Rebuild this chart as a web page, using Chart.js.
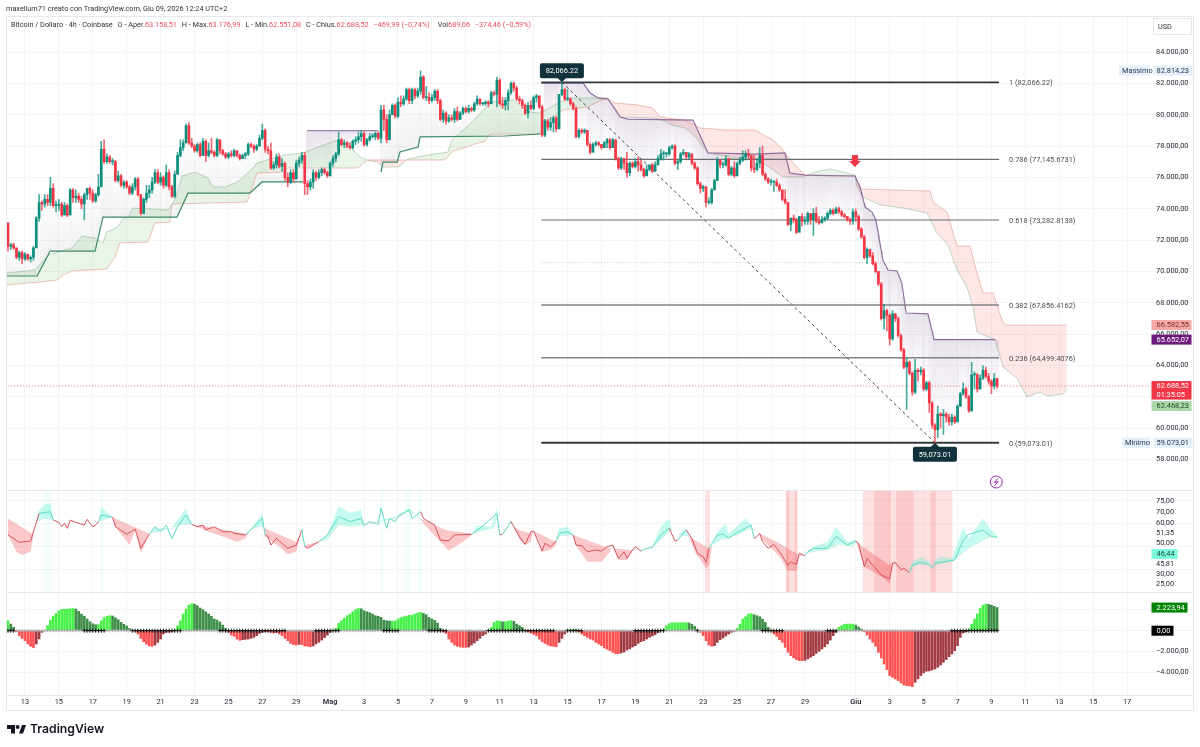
<!DOCTYPE html>
<html lang="it">
<head>
<meta charset="utf-8">
<title>Bitcoin / Dollaro 4h</title>
<script src="https://cdn.jsdelivr.net/npm/chart.js@4"></script>
<style>
  html, body { margin: 0; padding: 0; background: #fff; }
  #wrap { position: relative; width: 1200px; height: 747px; overflow: hidden; font-family: Roboto, sans-serif; color: #333; }
  #priceChart { position: absolute; left: 0; top: 0; }
  .txt { position: absolute; white-space: pre; font-size: 7.3px; line-height: 10px; }
  .txt b { font-weight: 400; color: #e8505f; }
  .txt i { font-style: normal; margin-left: 4.8px; }
  #logoText { left: 30px; top: 720px; font: 600 12.2px/18px Inter, sans-serif; color: #131722; }
</style>
</head>
<body>
<div id="wrap">
  <canvas id="priceChart" width="1200" height="747"></canvas>
  <div class="txt" style="left:6px;top:4px">maxellum71 creato con TradingView.com, Giu 09, 2026 12:24 UTC+2</div>
  <div class="txt" style="left:11px;top:20px">Bitcoin / Dollaro · 4h · Coinbase<i>O - Aper.</i><b>63.158,51</b><i>H - Max.</i><b>63.176,99</b><i>L - Min.</i><b>62.551,08</b><i>C - Chius.</i><b>62.688,52</b><i></i><b>−469,99 (−0,74%)</b><i style="margin-left:8px">Vol</i><b>689,06</b><i></i><b>−374,46 (−0,59%)</b></div>
  <div class="txt" style="left:1158px;top:22px">USD</div>
  <svg style="position:absolute;left:7px;top:725px" width="19" height="9" viewBox="0 0 19 9">
    <path d="M0 0H8V8.5H4V4H0Z M12 8.5L15 0H19L16 8.5Z" fill="#131722"/>
    <circle cx="10.6" cy="2" r="2" fill="#131722"/>
  </svg>
  <div class="txt" id="logoText">TradingView</div>
</div>
<script>
// candles, one per 4h bar, thousands of USD (10 per row)
const closes = [
  71.6,71.7,71.5,70.9,71.2,70.8,71.1,70.8,70.9,71.5,
  73.4,74.4,74.3,74.6,74.4,75.3,74.2,74.2,74.3,73.6,
  74.2,73.6,75.2,74.7,74.8,74.6,74.3,74.9,75.3,75.0,
  74.5,74.9,75.4,77.8,77.0,77.3,77.0,77.0,75.8,76.1,
  75.5,75.7,75.4,75.0,75.4,75.9,74.9,73.7,74.6,75.0,
  75.2,75.7,76.3,75.7,76.0,75.5,76.3,75.4,74.8,76.2,
  77.4,77.9,78.2,79.3,78.2,78.0,77.7,78.1,77.4,78.3,
  77.4,77.7,77.6,77.4,78.4,77.7,77.5,77.3,77.5,77.4,
  77.7,77.4,77.2,77.4,77.5,78.1,78.0,77.8,78.0,78.5,
  79.0,77.8,77.7,76.6,76.8,77.3,76.7,76.9,76.0,75.7,
  76.3,75.9,76.9,77.1,77.4,75.6,75.4,75.7,76.3,76.0,
  76.3,76.5,76.3,76.1,76.9,77.2,77.5,78.4,78.1,78.2,
  78.0,77.9,78.3,78.4,78.6,78.8,78.1,78.4,78.6,78.6,
  78.8,78.5,80.3,79.7,78.4,80.0,80.6,79.9,80.8,80.7,
  81.0,81.6,80.9,81.6,81.2,81.5,82.4,81.1,81.1,80.9,
  81.1,81.5,80.9,79.7,80.1,79.6,79.8,79.7,80.2,79.7,
  80.1,80.4,80.2,80.4,80.3,80.7,81.0,80.7,80.7,80.8,
  80.7,81.4,81.3,82.2,80.7,80.6,80.9,81.4,82.0,81.7,
  81.0,80.9,80.6,80.1,80.6,80.4,81.1,81.2,80.5,78.7,
  79.6,79.2,79.5,79.8,79.1,81.3,81.6,81.0,81.0,80.7,
  80.4,78.6,79.0,78.9,79.0,78.1,77.6,78.1,78.2,78.1,
  77.9,78.2,78.4,77.9,78.4,77.2,76.6,77.2,76.9,76.3,
  76.9,76.7,77.0,76.8,76.5,76.1,76.5,76.8,76.4,76.8,
  77.2,77.5,77.5,77.5,77.9,78.0,76.9,77.0,77.5,77.6,
  77.3,77.5,76.9,76.6,75.6,75.3,75.4,74.4,74.4,75.2,
  75.8,77.1,76.8,76.8,77.2,76.2,76.6,76.1,76.9,77.1,
  77.3,77.5,77.4,76.6,76.5,76.9,77.4,76.2,75.9,75.7,
  75.7,75.7,75.5,75.2,74.6,74.4,73.0,73.4,73.3,72.5,
  73.5,73.2,73.2,73.7,73.3,73.7,73.2,73.1,73.3,73.4,
  73.7,73.9,73.7,74.0,73.8,73.6,73.5,73.3,73.2,73.8,
  73.5,72.7,72.2,70.9,71.4,71.0,70.5,70.0,69.2,67.0,
  67.5,67.2,65.7,67.3,67.0,65.9,65.0,63.9,64.2,63.5,
  62.3,63.7,63.6,63.7,62.5,62.9,61.6,60.2,59.9,60.9,
  60.8,60.9,60.7,60.4,60.7,60.4,61.4,62.2,62.5,62.0,
  61.1,63.4,63.4,62.5,63.2,63.7,63.3,63.0,62.7,63.16,62.69,
];
const highs = [
  73.1,71.8,71.8,71.5,71.3,71.3,71.2,71.1,71.0,71.6,
  73.5,74.9,74.5,74.9,74.9,76.0,75.6,74.5,74.6,74.4,
  74.4,74.3,75.3,75.3,75.2,75.0,74.8,75.0,75.3,75.4,
  75.2,75.0,76.2,78.3,78.4,77.5,77.4,77.2,77.1,76.4,
  76.2,75.8,75.8,75.5,75.6,76.0,76.0,74.9,74.7,75.5,
  75.5,76.0,76.5,76.5,76.3,76.1,76.8,76.5,75.5,76.4,
  77.6,78.4,78.4,79.4,79.5,78.5,78.1,78.2,78.2,78.5,
  78.4,78.2,78.5,77.7,78.5,78.4,77.8,77.6,77.6,77.7,
  77.8,77.7,77.5,77.5,77.6,78.2,78.2,78.1,78.1,78.7,
  79.4,79.1,78.0,78.2,77.0,77.5,77.5,77.2,77.0,76.3,
  76.5,76.5,77.1,77.3,77.6,77.6,75.8,75.9,76.5,76.4,
  76.5,76.6,76.6,76.4,77.0,77.4,77.6,78.9,78.5,78.4,
  78.3,78.2,78.4,78.6,78.9,79.0,78.9,78.5,78.8,78.8,
  78.9,78.9,80.6,80.6,80.0,80.3,80.7,80.7,81.1,81.2,
  81.2,81.7,81.7,81.7,81.7,81.7,82.8,82.5,81.8,81.4,
  81.3,81.6,81.6,81.0,80.3,80.2,80.0,80.0,80.4,80.5,
  80.2,80.5,80.5,80.6,80.5,80.8,81.2,81.0,80.8,80.9,
  80.9,81.5,81.5,82.4,82.3,81.1,81.1,81.6,82.1,82.1,
  81.8,81.2,81.0,80.7,80.8,80.9,81.2,81.3,81.2,80.6,
  79.7,79.7,79.8,79.9,79.9,81.3,82.07,81.7,81.6,81.1,
  80.8,80.5,79.1,79.1,79.1,79.0,78.2,78.2,78.3,78.3,
  78.1,78.3,78.5,78.5,78.5,78.4,77.3,77.3,77.2,77.6,
  77.0,77.0,77.2,77.3,77.1,76.6,76.8,76.8,76.9,77.0,
  77.4,77.8,77.7,77.6,78.0,78.1,78.1,77.1,77.6,77.8,
  77.6,77.6,77.5,77.0,76.7,75.7,75.5,75.4,74.7,75.3,
  75.9,77.3,77.1,77.0,77.4,77.2,76.7,77.0,77.0,77.3,
  77.7,77.7,77.8,77.4,77.4,77.2,77.9,78.0,76.3,76.0,
  75.9,75.8,75.9,75.6,75.2,75.2,74.4,73.4,73.6,73.4,
  73.5,73.7,73.5,73.8,73.6,74.0,74.1,73.5,73.5,73.5,
  73.8,74.0,74.0,74.1,74.1,73.9,73.7,73.5,73.4,74.0,
  74.0,73.6,72.8,72.3,71.5,71.4,71.2,70.6,70.0,69.3,
  67.9,67.6,67.3,67.5,67.3,67.1,66.0,65.1,64.5,64.3,
  63.6,64.4,63.8,63.9,63.8,63.0,63.0,61.7,60.3,61.4,
  61.0,61.2,61.0,60.9,60.9,60.8,61.5,62.3,62.9,62.6,
  62.1,64.2,63.6,63.5,63.4,64.0,63.9,63.5,63.1,63.5,63.18,
];
const lows = [
  71.3,71.4,71.4,70.8,70.7,70.5,70.7,70.7,70.6,70.7,
  71.6,73.2,73.9,74.1,74.2,74.2,74.1,73.8,73.9,73.5,
  73.6,73.5,73.7,74.4,74.4,74.4,74.0,73.3,74.6,74.6,
  74.4,74.4,74.8,75.4,76.9,76.9,76.9,76.8,75.7,75.7,
  75.4,75.3,75.3,74.9,74.9,75.2,74.8,73.6,73.7,74.4,
  74.7,75.0,75.6,75.6,75.5,75.3,75.4,75.2,74.7,74.7,
  76.2,77.3,77.7,78.2,78.1,77.9,77.6,77.6,77.3,77.4,
  77.0,77.3,77.5,77.3,77.3,77.5,77.4,77.2,77.2,77.3,
  77.3,77.3,77.1,77.2,77.2,77.4,77.9,77.6,77.7,78.0,
  78.4,77.6,77.5,76.5,76.5,76.6,76.6,76.4,75.8,75.4,
  75.6,75.7,76.1,76.7,76.9,74.9,74.9,75.2,75.3,75.8,
  75.9,76.1,76.2,76.0,76.1,76.7,77.0,77.4,78.0,77.9,
  77.9,77.8,77.8,78.1,78.2,78.3,78.0,78.0,78.3,78.5,
  78.4,78.4,78.2,79.0,78.2,78.5,80.0,79.8,79.8,80.5,
  80.6,80.9,80.7,80.7,81.0,81.1,81.3,81.0,80.9,80.7,
  80.8,80.9,80.7,79.6,79.5,79.4,79.5,79.6,79.5,79.6,
  79.7,80.0,80.1,80.1,80.2,80.2,80.6,80.6,80.6,80.6,
  80.5,80.7,81.2,80.5,80.6,80.4,80.3,80.3,81.3,81.5,
  80.9,80.7,80.4,80.0,79.8,80.3,80.3,80.8,80.4,78.6,
  78.6,79.0,79.0,78.9,78.9,79.1,81.2,80.9,80.9,80.6,
  80.3,78.5,78.5,78.8,78.8,78.0,77.5,77.9,78.0,78.0,
  77.8,77.9,77.9,77.8,77.9,77.1,76.5,76.5,76.5,76.0,
  76.1,76.6,76.6,76.4,76.4,76.0,76.1,76.4,76.3,76.4,
  76.8,77.1,77.1,77.3,77.4,77.8,76.8,76.5,76.9,77.4,
  77.2,77.2,76.8,76.5,75.5,75.0,75.1,74.1,74.3,74.3,
  75.2,75.8,76.6,76.6,76.7,76.1,76.1,76.0,76.1,76.8,
  77.0,77.1,77.2,76.4,76.3,76.4,76.6,76.1,75.8,75.6,
  75.5,75.1,75.4,75.1,74.5,74.3,72.9,72.6,73.1,72.4,
  72.7,72.9,73.0,73.0,73.0,72.3,73.1,73.0,73.1,73.2,
  73.3,73.6,73.6,73.7,73.7,73.5,73.4,73.2,73.0,73.0,
  73.2,72.6,72.1,70.8,70.5,70.9,70.4,69.9,69.1,66.9,
  66.3,66.2,65.3,65.6,66.8,65.8,64.9,63.8,61.2,63.4,
  62.1,62.2,63.0,63.4,62.4,62.4,61.0,60.0,59.07,59.4,
  60.0,59.6,60.4,60.2,60.2,60.3,60.4,61.4,62.1,61.9,
  61.0,61.1,62.5,62.3,62.5,63.1,63.2,62.8,62.2,62.5,62.55,
];
const firstOpen = 73.1;

// cloud edges, bar index and thousands of USD
const spanABars = [-0.4,9.6,14.2,22.6,26.2,30.8,33.6,35,38.9,40.3,42.5,44.2,56.6,59.1,61.6,66.2,70.8,72.5,76.8,81.4,86.7,88.1,97.9,104.4,109.7,116.8,121,124.6,127,130.6,132.7,138,141.5,148.6,155.7,157.1,164.2,168.8,171.3,178.7,184.7,188.3,195.3,199.9,212,214.8,216.6,228.9,231.4,235,239.6,243.8,247.7,251.2,257.3,264.3,267.2,274.2,281.3,285.6,290.9,299.7,300.4,302.5,308.6,316.7,325.2,328.7,332.6,335.8,339.3,341.5,342.9,349.3,352.1,357,360.6,365.2,367.7,373.3,374.7];
const spanAVals = [69.9,70.09,71.05,71.5,72.26,72.13,71.82,72.52,72.84,73.28,73.47,74.05,73.92,74.56,76.09,76.34,75.96,75.39,75.39,75.71,76.6,76.92,77.43,77.56,77.94,78.39,77.94,77.3,77.11,76.98,76.66,76.66,77.17,77.43,77.62,78.39,79.53,80.43,80.81,80.94,80.17,80.11,80.81,81.07,81.07,80.43,79.85,79.79,79.66,79.34,79.15,78.51,77.56,77.43,77.24,77.17,76.92,76.03,76.03,76.34,76.54,76.15,75.39,74.75,74.24,74.05,73.73,72.45,71.69,70.09,69.01,67.73,66.14,65.63,63.9,63.2,61.99,62.31,62.05,62.18,62.47];
const spanBBars = [-0.7,11.3,17.3,19.5,22.6,35,37.9,39.6,49.5,52,57.3,58,84.6,86.3,88.1,97.3,99.1,123.8,127,154.6,157.5,168.8,170.6,188.3,191.1,196.4,204.9,210.2,212,214.8,222.9,228.2,230.7,239.6,243.1,244.9,254.8,264.3,270.7,274.2,277.8,282,290.9,299.7,301.5,326.3,327.3,332.3,335.8,340.4,342.9,345,348.6,351.7,352.8,374.7];
const spanBVals = [69.14,69.33,69.45,69.77,70.03,70.16,70.92,71.82,71.88,73.09,73.15,74.3,74.43,75.32,76.28,76.34,76.6,76.6,77.11,77.11,77.68,78.32,78.77,78.77,79.66,80.3,80.49,80.94,81.07,80.75,80.62,80.43,79.85,79.66,79.34,79.15,79.02,79.02,78.39,77.75,76.92,76.15,76.09,76.09,75.26,75.13,74.43,73.79,71.62,71.62,69.9,68.63,68.63,66.9,66.58,66.58];

// trend stop lines, green below price and purple above it
const trendUpOneBars = [-0.7,10.3,14.2,14.9,30.8,33.6,59.8,63.7,85.6,89.9,104.4];
const trendUpOneVals = [69.71,69.71,71.05,71.3,71.3,73.47,73.47,75,75,75.71,75.71];
const trendDownOneBars = [105.8,130.9];
const trendDownOneVals = [78.99,78.99];
const trendUpTwoBars = [132,132.7,137.7,138.7,145.1,145.8,175.9,188.3];
const trendUpTwoVals = [76.34,76.98,76.98,77.62,77.94,78.58,78.64,78.77];
const trendDownTwoBars = [188.6,203.5,206,208.8,212.3,216.6,219.4,242.4,247.7,264.3,274.9,276.7,282,299.7,301.5,303.3,305.7,307.1,309.6,311.4,314.6,316.3,317.8,325.5,327.7,349.3];
const trendDownTwoVals = [82.02,82.02,81.38,81.07,81,79.85,79.72,79.66,77.56,77.49,77.56,76.28,76.15,76.09,75.39,74.11,73.79,73.28,70.73,70.09,70.03,69.26,67.35,67.29,65.65,65.65];

// fibonacci retracement
const fibValues = [82066.22,77145.6731,73282.8138,70569.6,67856.4162,64499.4076,59073.01];
const fibTexts = ["1 (82,066.22)","0.786 (77,145.6731)","0.618 (73,282.8138)","","0.382 (67,856.4162)","0.236 (64,499.4076)","0 (59,073.01)"];
const fibStartBar = 188.7;
const fibEndBar = 350.7;
const swingHighBar = 196;
const swingLowBar = 328;
const lastPrice = 62688.52;
const arrowBar = 299.7;
const arrowPrice = 76660;
const badgeBar = 349.7;
const badgePrice = 56570;

// oscillator pane
const rsiLineBars = [0,1,4,6,8,11,15,16,18,19,20,21,22,24,27,28,30,31,32,33,37,38,42,45,47,50,52,54,56,58,60,63,65,67,69,70,73,76,79,80,84,90,91,92,93,95,99,102,104,105,106,110,113,117,121,125,126,128,131,132,134,135,137,138,142,143,144,146,147,151,153,156,158,164,167,173,174,175,178,181,183,185,186,189,190,192,194,195,198,200,201,203,205,208,210,212,214,216,218,219,221,222,224,226,228,231,234,236,237,240,242,244,246,247,248,251,253,255,259,263,264,265,266,267,269,271,273,276,277,279,280,282,283,285,290,293,297,300,301,303,304,309,312,313,314,316,317,319,320,323,326,327,328,335,338,340,345,348,350];
const rsiLineVals = [47.4,46.7,44.2,44.5,44.8,56.8,57.5,53.9,52.9,51,52.5,50.3,53.9,52.9,51.7,54.2,51,51.7,53.2,56.1,55.1,51,47.7,49.9,41.6,47.7,51,48.8,51.7,45.9,51,56.1,52,51,51.7,49.6,51,48.8,48.8,48.1,47.4,54.6,47.4,46.7,43,45.9,41.6,43,49.6,42.3,41.6,44.5,47.4,55.4,53.2,54.6,51.5,53.2,52,59,50.3,54.6,53.2,55.4,58.3,54.6,55.4,57.5,54.6,51.7,45.2,44.8,47.4,47.7,50.3,56.8,47.4,47.7,53.2,46.7,43.3,48.8,49.1,40.4,43.8,42.3,44.8,48.1,48.8,47.4,43,42.8,40.1,40.9,40.4,42.3,43,37.2,40.1,37.2,40.9,42.3,40.4,41.6,42,47.4,50.3,44.8,45.2,49.6,45.9,39.4,38,35.5,41.6,47.4,47.7,46.2,49.1,51.7,45.9,46.7,48.1,44.5,41.6,43.3,40.1,34.3,35.8,34.6,39.4,38.4,40.1,41.6,41.6,46.7,43,44.8,43.8,33.6,37.2,30,28.3,35.1,35.5,32.2,32.9,31,34.3,35.5,34.3,33.3,35.1,36.5,45.2,47.7,49.6,46.7,46.44];
const rsiSignalBars = [0,9,10,13,16,32,37,50,53,58,61,65,71,84,87,90,91,102,103,104,105,110,113,117,121,126,137,142,146,155,164,167,172,173,174,175,178,179,181,185,186,194,195,200,213,214,221,228,231,234,235,237,241,248,252,255,263,264,266,272,280,282,285,290,294,299,300,312,313,319,320,323,326,327,328,334,340,348,350];
const rsiSignalVals = [54.6,47.7,53.2,54.6,53.9,53.2,55.1,48.1,48.8,50.3,51.7,52,51,48.1,50.3,51,50.3,44.5,46.7,49.3,43,44.5,45.2,51.7,51,51.7,54.6,57.8,54.6,49.6,48.1,48.8,50.3,54.6,47.7,47.7,53.2,51,49.6,48.1,49.1,44.5,46.7,47.4,41.6,41.6,40.9,41.9,45.2,48.8,49.6,47.4,46.7,41.6,45.2,45.9,50.3,46.7,48.1,44.5,38.7,39.4,40.1,40.9,43.3,42.3,44.5,34.3,35.5,31,33.6,34.6,34.3,33.3,34.3,35.8,41.6,46.7,45.81];
const rsiOuterBars = [0,3,5,8,9,11,13,15,16,32,33,37,38,43,45,47,50,52,53,58,63,65,71,76,81,84,85,90,91,96,99,102,103,104,105,106,110,113,117,121,125,126,137,142,146,147,153,156,161,164,166,171,173,174,175,178,179,181,183,185,186,188,189,192,194,195,198,200,201,205,210,213,214,216,219,221,228,231,234,235,237,240,241,243,247,248,249,251,254,255,261,263,264,266,267,273,276,279,280,282,285,290,293,297,300,301,303,309,312,313,319,320,323,326,327,328,330,334,338,340,345,348,350];
const rsiOuterVals = [47.4,40.1,38.7,40.1,47.4,58.3,60.7,61.2,53.9,53.2,59.3,55.1,51,43,49.6,39.4,47.7,51,50.3,50.6,59,52,48.8,46.7,44.5,45.9,48.1,56.8,46.7,42.3,39,40.1,45.2,50.3,43,41.6,44.2,47.4,59.7,57.2,58.3,51.7,55.4,59,54.6,52.5,44.5,40.6,44.5,47.4,51.5,51,59,47.7,47.7,53.9,51,45.2,43,44.5,49.1,44.5,40.1,40.9,43,50.3,51,47.4,42.8,35.8,35.8,40.1,43,36.5,36.5,40.6,42.3,51,54.6,49.6,47.4,50.3,46.7,40.1,32.9,34.3,41.6,48.8,52.5,48.1,54.6,51.7,46.7,48.1,45.2,38,31.7,31.7,38,39.4,42.3,44.5,51,44.5,45.2,40.9,33.6,29.3,26.4,35.1,31,35.8,37.7,35.8,33.3,36.5,38,37.2,50.6,45.9,54.6,49.6,47.4];
const zoneFrom = [246.7,275.3,276.4,278.3,302.5,306.5,312.4,314.3,320.4,326.5,328.3];
const zoneTo = [248.4,276.4,278.3,279.3,306.5,312.4,314.3,320.4,326.5,328.3,334.2];
const zoneLevel = [1,2,1,2,1,2,1,2,1,2,1];
const calmFrom = [12.5,32.6,131.6,140.2,145.2];
const calmTo = [15.5,33.7,132.8,142.5,146.4];
const rsiLabels = ["75,00","70,00","60,00","51,35","50,00","45,81","30,00","25,00"];
const rsiLabelSpots = [61.96,57.39,52.61,48.26,43.91,34.78,30.43,26.09];
const rsiGridSpots = [62.6,52.6,42.2,32.6];
const rsiTagSpot = 39.13;

// momentum histogram, one per bar (10 per row)
const macd = [
  960,640,320,-100,-480,-740,-960,-1280,-1500,-1630,
  -1280,-800,-160,50,480,1020,1380,1660,1920,2050,
  2050,2080,2110,2140,2080,1860,1600,1380,1120,860,
  670,580,580,960,1250,1380,1440,1410,1250,1060,
  800,610,450,220,60,-60,-320,-740,-1060,-1310,
  -1470,-1500,-1380,-1120,-800,-320,-160,-160,-100,100,
  480,960,1600,2080,2460,2590,2560,2400,2180,2020,
  1820,1600,1380,1120,1020,830,540,220,-160,-420,
  -540,-800,-930,-860,-830,-800,-740,-640,-480,-260,
  -160,-100,-100,-160,-220,-160,-320,-480,-740,-960,
  -1220,-1340,-1380,-1310,-1340,-1470,-1500,-1540,-1470,-1280,
  -1120,-900,-670,-420,-160,30,220,700,960,1180,
  1440,1600,1820,2020,2140,2110,1920,1820,1730,1600,
  1440,1380,1280,1020,960,930,930,930,1120,1250,
  1340,1410,1470,1500,1600,1700,1760,1660,1540,1280,
  1120,990,740,220,-100,-260,-800,-1120,-1380,-1500,
  -1570,-1600,-1600,-1570,-1380,-1180,-960,-740,-480,-320,
  60,320,800,930,930,860,860,930,960,900,
  640,480,320,0,-100,-220,-350,-480,-800,-1060,
  -1220,-1380,-1470,-1500,-1540,-1120,-740,-320,100,100,
  130,100,-100,-320,-480,-640,-800,-900,-1120,-1280,
  -1440,-1660,-1790,-1920,-2080,-2210,-2210,-2140,-2050,-1860,
  -1760,-1570,-1440,-1220,-1060,-960,-800,-640,-510,-380,
  -190,0,160,480,670,770,770,770,770,770,
  770,740,610,420,100,-160,-480,-960,-1380,-1500,
  -1440,-1120,-860,-700,-510,-320,-160,-60,220,640,
  1120,1340,1600,1630,1540,1440,1340,1120,800,320,
  0,-320,-540,-860,-1120,-1600,-2080,-2400,-2620,-2780,
  -2880,-2880,-2850,-2720,-2560,-2400,-2180,-1980,-1760,-1540,
  -1280,-900,-480,-160,320,480,610,640,640,640,
  540,350,160,-100,-420,-800,-1120,-1500,-2080,-2620,
  -3200,-3740,-4320,-4480,-4640,-4800,-5020,-5220,-5280,-5310,
  -5380,-4960,-4640,-4320,-4060,-3900,-3870,-3780,-3680,-3520,
  -3300,-3040,-2780,-2500,-2240,-1920,-1440,-640,-220,-100,
  160,640,1120,1600,2140,2460,2560,2530,2460,2340,2224,
];
const blackFrom = [0,27,44,75,109,133,149,170,181,198,222,244,267,290,334,340];
const blackTo = [2,34,61,98,117,138,155,181,193,203,232,244,274,293,339,350];

// axes
const xTickBars = [6,18,30,42,54,66,78,90,102,114,126,138,150,162,174,186,198,210,222,234,246,258,270,282,300,312,324,336,348,360,372,384,396];
const xTickTexts = ["13","15","17","19","21","23","25","27","29","Mag","3","5","7","9","11","13","15","17","19","21","23","25","27","29","Giu","3","5","7","9","11","13","15","17"];
const priceTicks = [84000,82000,80000,78000,76000,74000,72000,70000,68000,66000,64000,62000,60000,58000];
const macdTicks = [2000,0,-2000,-4000];

const UP = "#0b8f7c";
const DOWN = "#f23645";
const ROBOTO = "Roboto, sans-serif";
const LABEL_SIZE = 7.4;

function money(v) {
  return v.toLocaleString("de-DE", { minimumFractionDigits: 2, maximumFractionDigits: 2 }).replace("-", "−");
}

function pairs(xs, ys, factor = 1) {
  return xs.map((x, i) => ({ x, y: ys[i] * factor }));
}

function valueAt(xs, ys, x) {
  if (x <= xs[0]) return ys[0];
  for (let i = 1; i < xs.length; i++) {
    if (x <= xs[i]) {
      const t = (x - xs[i - 1]) / (xs[i] - xs[i - 1] || 1);
      return ys[i - 1] + (ys[i] - ys[i - 1]) * t;
    }
  }
  return ys[ys.length - 1];
}

const opens = closes.map((c, i) => (i === 0 ? firstOpen : closes[i - 1]));
const candleColors = closes.map((c, i) => (c >= opens[i] ? UP : DOWN));
const macdColors = macd.map((v, i) => {
  const prev = i === 0 ? 0 : macd[i - 1];
  if (v >= 0) return v >= prev ? "#48f04a" : "#3f8f4a";
  return v <= prev ? "#ff5252" : "#a33c42";
});
const isBlackCross = (i) => blackFrom.some((from, k) => i >= from && i <= blackTo[k]);

function priceLine(xs, ys, color, width = 1.2) {
  return {
    type: "line", data: pairs(xs, ys, 1000), yAxisID: "yPrice",
    borderColor: color, borderWidth: width, pointRadius: 0, tension: 0, fill: false,
  };
}

const datasets = [];

datasets.push({
  type: "bar", yAxisID: "yPrice", grouped: false, barThickness: 2, minBarLength: 1,
  data: closes.map((c, i) => ({ x: i, y: [opens[i] * 1000, c * 1000] })),
  backgroundColor: candleColors,
});
datasets.push({
  type: "bar", yAxisID: "yPrice", grouped: false, barThickness: 1,
  data: closes.map((c, i) => ({ x: i, y: [lows[i] * 1000, highs[i] * 1000] })),
  backgroundColor: candleColors.map((c) => (c === UP ? "rgba(11,143,124,0.75)" : "rgba(242,54,69,0.75)")),
});

fibValues.forEach((value, i) => {
  const edge = i === 0 || i === fibValues.length - 1;
  const dotted = fibTexts[i] === "";
  const soft = i === 4 || i === 5;
  datasets.push({
    type: "line", yAxisID: "yPrice", pointRadius: 0, fill: false,
    data: [{ x: fibStartBar, y: value }, { x: fibEndBar, y: value }],
    borderColor: dotted ? "#c8c8c8" : edge ? "#333a3f" : soft ? "#808386" : "#6a6d70",
    borderWidth: edge ? 1.8 : dotted ? 1 : soft ? 1.4 : 1.2,
    borderDash: dotted ? [1, 2] : [],
  });
});
datasets.push({
  type: "line", yAxisID: "yPrice", pointRadius: 0, fill: false,
  data: [{ x: swingHighBar, y: fibValues[0] }, { x: swingLowBar, y: fibValues[6] }],
  borderColor: "#444", borderWidth: 1, borderDash: [3, 3],
});
datasets.push({
  type: "line", yAxisID: "yPrice", pointRadius: 0, fill: false,
  data: [{ x: -1, y: lastPrice }, { x: 405, y: lastPrice }],
  borderColor: "rgba(242,54,69,0.7)", borderWidth: 1, borderDash: [1, 2],
});

datasets.push(priceLine(trendUpOneBars, trendUpOneVals, "#3c8a68", 1.2));
datasets.push(priceLine(trendDownOneBars, trendDownOneVals, "#9a7fa6", 1.3));
datasets.push(priceLine(trendUpTwoBars, trendUpTwoVals, "#3c8a68", 1.2));
datasets.push(priceLine(trendDownTwoBars, trendDownTwoVals, "#8f6f9e", 1.2));

const spanA = priceLine(spanABars, spanAVals, "rgba(90,150,100,0.35)", 1);
const spanB = priceLine(spanBBars, spanBVals, "rgba(226,125,105,0.45)", 1);
datasets.push(spanA, spanB);
spanA.fill = { target: datasets.indexOf(spanB), above: "rgba(76,175,80,0.13)", below: "rgba(242,70,70,0.13)" };

// oscillator
datasets.push({
  type: "line", yAxisID: "yRsi", data: pairs(rsiLineBars, rsiLineVals),
  borderWidth: 1, pointRadius: 0, fill: false,
  borderColor: "#d9535c",
  segment: {
    borderColor: (ctx) => {
      const mid = (ctx.p0.parsed.x + ctx.p1.parsed.x) / 2;
      const up = valueAt(rsiOuterBars, rsiOuterVals, mid) > valueAt(rsiSignalBars, rsiSignalVals, mid);
      return up ? "#5fdcc4" : "#d9535c";
    },
  },
});
const rsiOuter = {
  type: "line", yAxisID: "yRsi", data: pairs(rsiOuterBars, rsiOuterVals),
  borderWidth: 0, pointRadius: 0,
};
const rsiSignal = {
  type: "line", yAxisID: "yRsi", data: pairs(rsiSignalBars, rsiSignalVals),
  borderWidth: 0, pointRadius: 0, fill: false,
};
datasets.push(rsiOuter, rsiSignal);
rsiOuter.fill = { target: datasets.indexOf(rsiSignal), above: "rgba(70,240,205,0.32)", below: "rgba(242,70,75,0.3)" };

// momentum
datasets.push({
  type: "scatter", yAxisID: "yMacd", data: macd.map((v, i) => ({ x: i, y: 0 })),
  pointStyle: "cross", borderWidth: 1, pointRadius: (ctx) => (isBlackCross(ctx.dataIndex) ? 2 : 1.5),
  pointBorderColor: macd.map((v, i) => (isBlackCross(i) ? "#111" : "#a9a9a9")),
  showLine: false,
});
datasets.push({
  type: "bar", yAxisID: "yMacd", grouped: false, barThickness: 2,
  data: macd.map((v, i) => ({ x: i, y: [0, v] })),
  backgroundColor: macdColors,
});

function drawTag(ctx, text, y, left, width, bg, fg, height = 10) {
  ctx.fillStyle = bg;
  ctx.fillRect(left, y - height / 2, width, height);
  ctx.fillStyle = fg;
  ctx.textAlign = "left";
  ctx.textBaseline = "middle";
  ctx.fillText(text, left + 5, y + 0.5);
}

const paneBackground = {
  id: "paneBackground",
  beforeDatasetsDraw(chart) {
    const { ctx, scales, chartArea } = chart;
    const { x, yPrice, yRsi } = scales;
    ctx.save();
    ctx.beginPath();
    ctx.rect(chartArea.left, chartArea.top, chartArea.width, chartArea.height);
    ctx.clip();

    // shading between the stop line and the close
    const trends = [
      [trendUpOneBars, trendUpOneVals, "110,125,115", 0.1],
      [trendDownOneBars, trendDownOneVals, "120,85,140", 0.17],
      [trendUpTwoBars, trendUpTwoVals, "110,125,115", 0.1],
      [trendDownTwoBars, trendDownTwoVals, "120,85,140", 0.17],
    ];
    closes.forEach((c, i) => {
      const trend = trends.find((t) => i >= t[0][0] && i <= t[0][t[0].length - 1] + 1);
      if (!trend) return;
      const lineY = yPrice.getPixelForValue(valueAt(trend[0], trend[1], i) * 1000);
      const priceY = yPrice.getPixelForValue(c * 1000);
      const left = Math.round(x.getPixelForValue(i - 0.5));
      const right = Math.round(x.getPixelForValue(i + 0.5));
      const grad = ctx.createLinearGradient(0, lineY, 0, priceY);
      grad.addColorStop(0, `rgba(${trend[2]},${trend[3]})`);
      grad.addColorStop(1, `rgba(${trend[2]},0.015)`);
      ctx.fillStyle = grad;
      ctx.fillRect(left, Math.min(lineY, priceY), right - left, Math.abs(priceY - lineY));
    });

    // alert zones behind the oscillator
    zoneFrom.forEach((from, i) => {
      ctx.fillStyle = zoneLevel[i] === 2 ? "rgba(242,60,60,0.28)" : "rgba(242,60,60,0.16)";
      const a = x.getPixelForValue(from);
      ctx.fillRect(a, yRsi.top, x.getPixelForValue(zoneTo[i]) - a, yRsi.height);
    });
    calmFrom.forEach((from, i) => {
      ctx.fillStyle = "rgba(70,240,205,0.07)";
      const a = x.getPixelForValue(from);
      ctx.fillRect(a, yRsi.top, x.getPixelForValue(calmTo[i]) - a, yRsi.height);
    });
    ctx.restore();
  },
  afterDraw(chart) {
    const { ctx, scales } = chart;
    const { x, yPrice, yRsi, yMacd } = scales;
    const axisLeft = yPrice.left;
    ctx.save();

    // frame and pane separators
    ctx.strokeStyle = "#e6e8ee";
    ctx.lineWidth = 1;
    ctx.strokeRect(6.5, 16.5, 1187, 694);
    [yRsi.top, yRsi.bottom, yMacd.bottom].forEach((y) => {
      ctx.beginPath();
      ctx.moveTo(6, Math.round(y) + 0.5);
      ctx.lineTo(1193, Math.round(y) + 0.5);
      ctx.stroke();
    });
    ctx.strokeRect(1153.5, 18.5, 38, 16);

    // fibonacci level texts
    ctx.font = `${LABEL_SIZE}px ${ROBOTO}`;
    ctx.fillStyle = "#4a4d52";
    ctx.textAlign = "left";
    ctx.textBaseline = "middle";
    fibTexts.forEach((text, i) => {
      if (text) ctx.fillText(text, x.getPixelForValue(fibEndBar) + 10, yPrice.getPixelForValue(fibValues[i]) + 1);
    });

    // swing callouts
    const callout = (text, value, above) => {
      const cx = x.getPixelForValue(above ? swingHighBar : swingLowBar);
      const py = yPrice.getPixelForValue(value);
      const dir = above ? -1 : 1;
      ctx.fillStyle = "#11323a";
      ctx.beginPath();
      ctx.moveTo(cx, py);
      ctx.lineTo(cx - 5, py + dir * 5);
      ctx.lineTo(cx + 5, py + dir * 5);
      ctx.fill();
      const boxY = above ? py - 19 : py + 4;
      ctx.beginPath();
      ctx.roundRect(cx - 22, boxY, 44, 15, 2);
      ctx.fill();
      ctx.fillStyle = "#fff";
      ctx.textAlign = "center";
      ctx.fillText(text, cx, boxY + 8);
    };
    callout("82,066.22", fibValues[0], true);
    callout("59,073.01", fibValues[6], false);

    // sell arrow
    const ax = x.getPixelForValue(arrowBar);
    const ay = yPrice.getPixelForValue(arrowPrice);
    ctx.fillStyle = DOWN;
    ctx.fillRect(ax - 3, ay - 12, 6, 7);
    ctx.beginPath();
    ctx.moveTo(ax, ay);
    ctx.lineTo(ax - 6, ay - 6);
    ctx.lineTo(ax + 6, ay - 6);
    ctx.fill();

    // bolt badge under the last bars
    const bx = x.getPixelForValue(badgeBar);
    const by = yPrice.getPixelForValue(badgePrice);
    ctx.strokeStyle = "#9c27b0";
    ctx.lineWidth = 1;
    ctx.beginPath();
    ctx.arc(bx, by, 6, 0, Math.PI * 2);
    ctx.stroke();
    ctx.beginPath();
    ctx.moveTo(bx + 1.5, by - 3.5);
    ctx.lineTo(bx - 2, by + 0.5);
    ctx.lineTo(bx + 2, by - 0.5);
    ctx.lineTo(bx - 1.5, by + 3.5);
    ctx.stroke();

    // price axis tags
    const tagLeft = axisLeft + 0.5;
    ctx.font = `${LABEL_SIZE}px ${ROBOTO}`;
    const label = (text, value, from, width) => {
      const y = yPrice.getPixelForValue(value);
      ctx.fillStyle = "#e6f0fb";
      ctx.fillRect(from, y - 5, width, 10);
      ctx.fillStyle = "#1f3350";
      ctx.textAlign = "left";
      ctx.textBaseline = "middle";
      ctx.fillText(text, from + 3, y + 0.5);
    };
    label("Massimo", 82814.23, 1119, 31);
    label("82.814,23", 82814.23, tagLeft + 2, 39);
    label("Mínimo", 59073.01, 1122, 28);
    label("59.073,01", 59073.01, tagLeft + 2, 39);
    drawTag(ctx, "66.582,55", yPrice.getPixelForValue(66582.55), tagLeft, 40, "#f4a9a6", "#7a2f2c");
    drawTag(ctx, "65.652,07", yPrice.getPixelForValue(65652.07), tagLeft, 40, "#6d1b7b", "#fff");
    const lastY = yPrice.getPixelForValue(lastPrice);
    ctx.fillStyle = "#f23645";
    ctx.fillRect(tagLeft, lastY - 5, 40, 18.5);
    ctx.fillStyle = "#fff";
    ctx.fillText("62.688,52", tagLeft + 5, lastY + 0.5);
    ctx.fillText("01:35:05", tagLeft + 5, lastY + 9);
    drawTag(ctx, "62.468,23", yPrice.getPixelForValue(62468.23) + 16.5, tagLeft, 40, "#a9d8ab", "#1f4a22");
    drawTag(ctx, "46,44", yRsi.getPixelForValue(rsiTagSpot), tagLeft, 26, "#7dfbdc", "#14443a");
    drawTag(ctx, "2.223,94", yMacd.getPixelForValue(2223.94), tagLeft, 36, "#058505", "#fff");
    drawTag(ctx, "0,00", yMacd.getPixelForValue(0), tagLeft, 22, "#000", "#fff");
    ctx.restore();
  },
};

const gridColor = "#f3f4f6";
const sideAxis = {
  position: "right",
  stack: "panes",
  offset: false,
  border: { display: false },
  afterFit(scale) {
    scale.width = 42;
  },
};
const sideTicks = { color: "#2a2e39", font: { family: ROBOTO, size: LABEL_SIZE }, padding: -37, autoSkip: false, maxRotation: 0 };

new Chart(document.getElementById("priceChart"), {
  data: { datasets },
  plugins: [paneBackground],
  options: {
    responsive: false,
    animation: false,
    devicePixelRatio: 1,
    events: [],
    layout: { padding: { left: 6, right: 7, top: 16, bottom: 36 } },
    plugins: { legend: { display: false }, tooltip: { enabled: false } },
    scales: {
      x: {
        type: "linear",
        position: "bottom",
        offset: false,
        min: -0.708,
        max: 404.46,
        border: { display: false },
        grid: { color: gridColor, drawTicks: false, offset: false },
        afterBuildTicks(axis) {
          axis.ticks = xTickBars.map((value) => ({ value }));
        },
        afterFit(scale) {
          scale.height = 16;
        },
        ticks: {
          color: "#2a2e39",
          font: (ctx) => ({ family: ROBOTO, size: LABEL_SIZE, weight: /[a-z]/i.test(xTickTexts[ctx.index] || "") ? "600" : "400" }),
          padding: 3,
          autoSkip: false,
          maxRotation: 0,
          callback: (value, index) => xTickTexts[index],
        },
      },
      yPrice: {
        ...sideAxis,
        stackWeight: 474,
        min: 56058,
        max: 86297,
        grid: { color: gridColor, tickLength: 42 },
        afterBuildTicks(axis) {
          axis.ticks = priceTicks.map((value) => ({ value }));
        },
        ticks: { ...sideTicks, callback: (value) => money(value) },
      },
      yRsi: {
        ...sideAxis,
        stackWeight: 102,
        min: 22.61,
        max: 66.96,
        grid: {
          tickLength: 42,
          color: (ctx) => (ctx.tick && rsiGridSpots.includes(ctx.tick.value) ? gridColor : "rgba(0,0,0,0)"),
        },
        afterBuildTicks(axis) {
          axis.ticks = rsiLabelSpots.concat(rsiGridSpots).map((value) => ({ value }));
        },
        ticks: {
          ...sideTicks,
          callback: (value, index) => rsiLabels[index] || "",
        },
      },
      yMacd: {
        ...sideAxis,
        stackWeight: 103,
        min: -6183,
        max: 3721,
        grid: { color: gridColor, tickLength: 42 },
        afterBuildTicks(axis) {
          axis.ticks = macdTicks.map((value) => ({ value }));
        },
        ticks: { ...sideTicks, callback: (value) => (value < 0 ? money(value) : "") },
      },
    },
  },
});
</script>
</body>
</html>
